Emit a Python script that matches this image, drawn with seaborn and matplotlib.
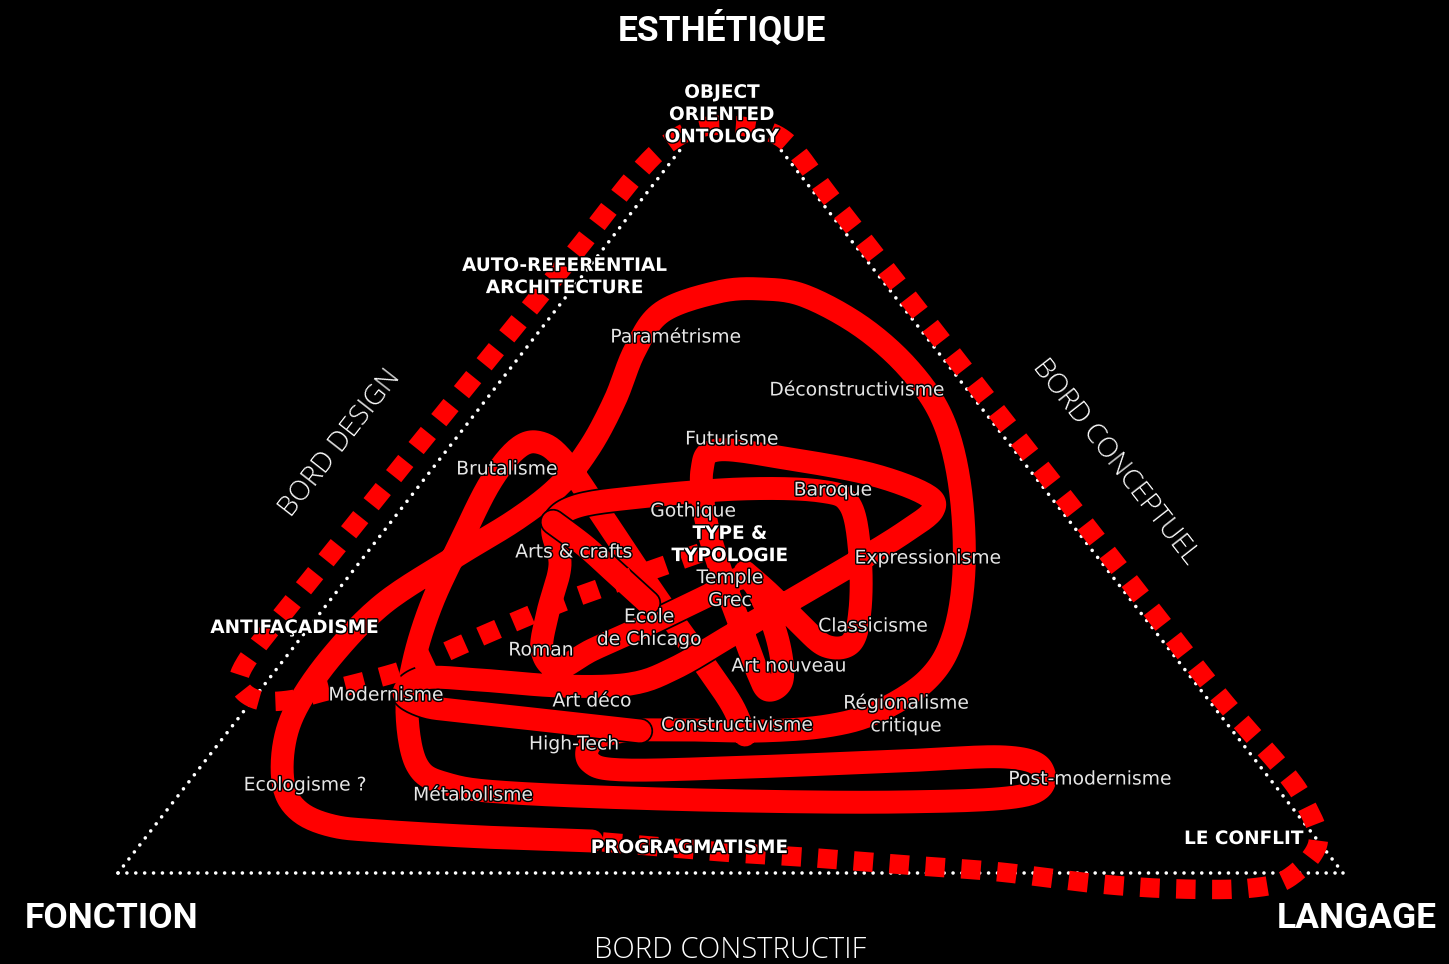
import numpy as np
import pandas as pd
import matplotlib
matplotlib.use("Agg")
import matplotlib.pyplot as plt
import matplotlib.patheffects as pe
import seaborn as sns

# ---------------- data (pixel-space diagram coordinates) ----------------
# dotted triangle edges
tri_left_x = [118, 684]
tri_left_y = [873, 145]
tri_right_x = [1343, 777]
tri_right_y = [873, 145]
tri_bottom_x = [118, 1343]
tri_bottom_y = [873, 873]

# dashed red route: TYPE & TYPOLOGIE -> design edge -> apex -> conceptual edge -> bottom
dash_x = [700, 660, 610, 560, 500, 450, 410, 370, 330, 290, 258, 240, 246, 290, 340, 400,
          460, 520, 580, 635, 670, 703, 747, 787, 830, 900, 980, 1060, 1140, 1220, 1283,
          1305, 1318, 1290, 1252, 1180, 1100, 1000, 920, 817, 737, 650, 592]
dash_y = [553, 567, 585, 603, 628, 650, 668, 680, 690, 700, 700, 686, 662, 605, 543, 468,
          394, 320, 246, 176, 142, 127, 127, 142, 197, 287, 390, 492, 595, 697, 770,
          803, 843, 877, 888, 889, 884, 872, 866, 858, 853, 846, 841]

# solid red strand 1: outer loop, constructivisme, high-tech / post-modernisme, métabolisme, brutalisme
s1_x = [592, 483, 380, 333, 300, 284, 284, 298, 333, 383, 450, 517, 560, 590, 615, 635,
        662, 718, 762, 805, 862, 910, 943, 960, 964, 953, 927, 877, 827, 760, 690, 625,
        592, 590, 625, 750, 900, 1005, 1042, 1026, 900, 700, 514, 447, 417, 407, 414,
        432, 460, 490, 518, 541, 565, 605, 655, 705, 732, 745]
s1_y = [841, 837, 831, 826, 812, 787, 745, 705, 655, 604, 560, 519, 485, 447, 400, 350,
        312, 292, 289, 296, 327, 370, 420, 487, 570, 637, 680, 712, 726, 731, 730, 731,
        742, 762, 770, 767, 761, 757, 769, 795, 802, 800, 793, 784, 765, 712, 660,
        603, 543, 483, 448, 443, 462, 520, 595, 665, 705, 735]

# solid red strand 2: art déco hairpin, expressionisme, futurisme, art nouveau, roman, gothique, baroque
s2_x = [640, 560, 514, 460, 425, 404, 425, 480, 560, 630, 675, 730, 795, 860, 905, 933,
        925, 870, 790, 718, 702, 706, 722, 742, 758, 768, 782, 779, 765, 745, 705, 645,
        592, 558, 542, 548, 560, 553, 575, 640, 740, 820, 850, 860, 860, 851, 826, 800,
        770, 745]
s2_y = [731, 722, 717, 711, 706, 693, 678, 680, 686, 684, 668, 636, 598, 560, 532, 510,
        494, 474, 459, 450, 470, 520, 575, 630, 673, 690, 680, 645, 605, 578, 597, 626,
        650, 668, 650, 612, 565, 527, 507, 497, 489, 491, 505, 555, 610, 643, 646, 624,
        594, 572]

# solid red strand 3: arts & crafts diagonal
s3_x = [553, 585, 615, 648]
s3_y = [522, 546, 573, 603]

# labels
small_labels = ["Paramétrisme", "Déconstructivisme", "Futurisme", "Brutalisme", "Baroque",
                "Gothique", "Arts & crafts", "Expressionisme", "Temple\nGrec", "Ecole\nde Chicago",
                "Classicisme", "Roman", "Art nouveau", "Modernisme", "Art déco",
                "Régionalisme\ncritique", "Constructivisme", "High-Tech", "Ecologisme ?",
                "Métabolisme", "Post-modernisme"]
small_x = [676, 857, 732, 507, 833, 693, 574, 928, 730, 649, 873, 541, 789, 386, 592,
           906, 737, 574, 305, 473, 1090]
small_y = [337, 390, 439, 469, 490, 511, 552, 558, 589, 628, 626, 650, 666, 695, 701,
           714, 725, 744, 785, 795, 779]

bold_labels = ["OBJECT\nORIENTED\nONTOLOGY", "AUTO-REFERENTIAL\nARCHITECTURE", "ANTIFAÇADISME",
               "TYPE &\nTYPOLOGIE", "PROGRAGMATISME", "LE CONFLIT"]
bold_x = [722, 565, 295, 730, 690, 1244]
bold_y = [115, 277, 628, 545, 848, 839]

poles = ["ESTHÉTIQUE", "FONCTION", "LANGAGE"]
poles_x = [722, 112, 1357]
poles_y = [30, 918, 918]

edges = ["BORD DESIGN", "BORD CONCEPTUEL", "BORD CONSTRUCTIF"]
edges_x = [340, 1115, 730]
edges_y = [443, 462, 950]
edges_rot = [52, -52, 0]

# ---------------- drawing ----------------
RED = "#ff0000"


def smooth(xs, ys, n=14):
    p = np.column_stack([xs, ys]).astype(float)
    p = np.vstack([p[0], p, p[-1]])
    out = []
    t = np.linspace(0, 1, n, endpoint=False)[:, None]
    for i in range(1, len(p) - 2):
        p0, p1, p2, p3 = p[i - 1], p[i], p[i + 1], p[i + 2]
        c = 0.5 * ((2 * p1) + (-p0 + p2) * t + (2 * p0 - 5 * p1 + 4 * p2 - p3) * t ** 2
                   + (-p0 + 3 * p1 - 3 * p2 + p3) * t ** 3)
        out.append(c)
    out.append(p[-2][None, :])
    out = np.vstack(out)
    return out[:, 0], out[:, 1]


sns.set_style("dark", {"axes.facecolor": "black", "figure.facecolor": "black",
                       "text.color": "white"})

fig = plt.figure(figsize=(14.49, 9.64), dpi=100, facecolor="black")
ax = fig.add_axes([0, 0, 1, 1])
ax.set_facecolor("black")


def draw(xs, ys, color, lw, smooth_it=True):
    if smooth_it:
        xs, ys = smooth(xs, ys)
    df = pd.DataFrame({"x": xs, "y": ys})
    sns.lineplot(data=df, x="x", y="y", sort=False, estimator=None, color=color,
                 linewidth=lw, ax=ax, legend=False)
    return ax.lines[-1]


# dotted triangle
for xs, ys in [(tri_left_x, tri_left_y), (tri_right_x, tri_right_y), (tri_bottom_x, tri_bottom_y)]:
    ln = draw(xs, ys, "white", 2.6, smooth_it=False)
    ln.set_linestyle((0, (0.01, 2.45)))
    ln.set_dash_capstyle("round")

# solid strands with thin dark outline
for xs, ys in [(s1_x, s1_y), (s2_x, s2_y), (s3_x, s3_y)]:
    ln = draw(xs, ys, RED, 16.5)
    ln.set_solid_capstyle("round")
    ln.set_solid_joinstyle("round")
    ln.set_path_effects([pe.Stroke(linewidth=19, foreground="black"), pe.Normal()])

# dashed route
ln = draw(dash_x, dash_y, RED, 14)
ln.set_linestyle((0, (1.0, 0.85)))
ln.set_dash_capstyle("butt")

ax.set_xlim(0, 1449)
ax.set_ylim(964, 0)
ax.set_axis_off()

outline = [pe.withStroke(linewidth=2, foreground="black")]
for lab, x, y in zip(small_labels, small_x, small_y):
    ax.text(x, y, lab, color="#e6e6e6", fontsize=13.5, family="DejaVu Sans",
            ha="center", va="center", linespacing=1.25, path_effects=outline)

for lab, x, y in zip(bold_labels, bold_x, bold_y):
    ax.text(x, y, lab, color="white", fontsize=13.3, family="DejaVu Sans", fontweight="bold",
            ha="center", va="center", linespacing=1.3, path_effects=outline)

for lab, x, y in zip(poles, poles_x, poles_y):
    ax.text(x, y, lab, color="white", fontsize=25.5, family="Roboto", fontweight="bold",
            ha="center", va="center")

edge_sizes = [20, 20, 21]
for lab, x, y, r, fs in zip(edges, edges_x, edges_y, edges_rot, edge_sizes):
    ax.text(x, y, lab, color="white", fontsize=fs, family="Open Sans", fontweight="light",
            ha="center", va="center", rotation=r, rotation_mode="anchor")

fig.savefig("out.png", dpi=100, facecolor="black")
